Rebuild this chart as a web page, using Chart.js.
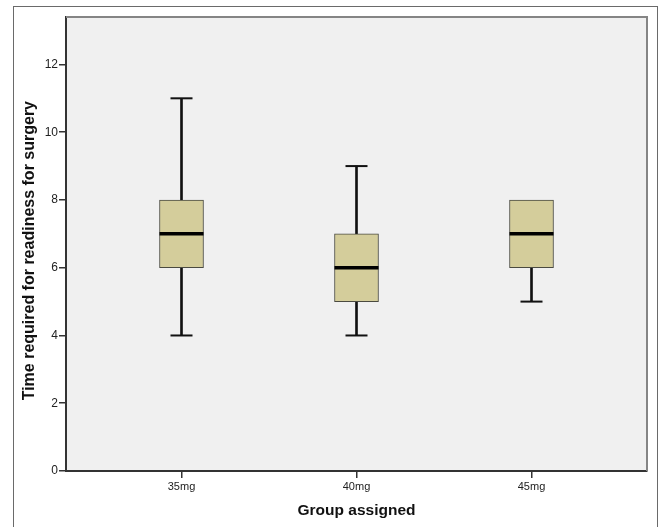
<!DOCTYPE html>
<html>
<head>
<meta charset="utf-8">
<title>Time required for readiness for surgery</title>
<script src="https://cdn.jsdelivr.net/npm/chart.js@4.4.1/dist/chart.umd.min.js"></script>
<style>
  html, body { margin: 0; padding: 0; background: #fff; }
  #wrap { position: relative; width: 659px; height: 527px; overflow: hidden; }
  #frame {
    position: absolute; left: 13px; top: 6px; width: 643px; height: 540px;
    border: 1px solid #6a6a6a;
  }
  #chart { position: absolute; left: 0; top: 0; }
</style>
</head>
<body>
<div id="wrap">
  <div id="frame"></div>
  <canvas id="chart" width="659" height="527"></canvas>
</div>
<script>
// Data
const groups = ["35mg", "40mg", "45mg"];
const mins = [4, 4, 5];
const q1s = [6, 5, 6];
const medians = [7, 6, 7];
const q3s = [8, 7, 8];
const maxs = [11, 9, 8];
const yTicks = [0, 2, 4, 6, 8, 10, 12];

const font = "'Liberation Sans', Arial, sans-serif";

// points for the datasets (whiskers/caps only where they stick out of the box)
const boxData = groups.map((g, i) => ({ x: i, y: [q1s[i], q3s[i]] }));
const medianData = groups.map((g, i) => ({ x: i, y: medians[i] }));
const lowerWhisker = [];
const upperWhisker = [];
const capData = [];
groups.forEach((g, i) => {
  if (mins[i] < q1s[i]) {
    lowerWhisker.push({ x: i, y: [mins[i], q1s[i]] });
    capData.push({ x: i, y: mins[i] });
  }
  if (maxs[i] > q3s[i]) {
    upperWhisker.push({ x: i, y: [q3s[i], maxs[i]] });
    capData.push({ x: i, y: maxs[i] });
  }
});

// plot background + top/right frame
const plotFrame = {
  id: "plotFrame",
  beforeDraw(chart) {
    const { ctx, chartArea: a } = chart;
    ctx.save();
    ctx.fillStyle = "#f0f0f0";
    ctx.fillRect(a.left, a.top, a.width, a.height);
    ctx.restore();
  },
  afterDraw(chart) {
    const { ctx, chartArea: a } = chart;
    ctx.save();
    ctx.strokeStyle = "#858585";
    ctx.lineWidth = 2;
    ctx.beginPath();
    ctx.moveTo(a.left, a.top);
    ctx.lineTo(a.right, a.top);
    ctx.lineTo(a.right, a.bottom);
    ctx.stroke();
    ctx.restore();
  },
};

const whisker = (data, order) => ({
  data: data,
  grouped: false,
  barThickness: 2,
  backgroundColor: "#111",
  borderWidth: 0,
  order: order,
});

new Chart(document.getElementById("chart"), {
  type: "bar",
  data: {
    datasets: [
      {
        type: "line",
        data: medianData,
        showLine: false,
        pointStyle: "line",
        pointRadius: 22,
        pointHoverRadius: 22,
        pointBorderWidth: 3.5,
        pointBorderColor: "#000",
        order: 1,
      },
      {
        type: "line",
        data: capData,
        showLine: false,
        pointStyle: "line",
        pointRadius: 11,
        pointHoverRadius: 11,
        pointBorderWidth: 2,
        pointBorderColor: "#111",
        order: 2,
      },
      {
        data: boxData,
        grouped: false,
        barThickness: 44,
        backgroundColor: "#d4cd9b",
        borderColor: "#4a4a40",
        borderWidth: 1,
        borderSkipped: false,
        order: 3,
      },
      whisker(lowerWhisker, 4),
      whisker(upperWhisker, 5),
    ],
  },
  options: {
    responsive: false,
    animation: false,
    events: [],
    devicePixelRatio: 1,
    layout: { autoPadding: false, padding: { top: 17, right: 12, left: 0, bottom: 0 } },
    plugins: {
      legend: { display: false },
      tooltip: { enabled: false },
    },
    scales: {
      x: {
        type: "linear",
        min: -0.66,
        max: 2.66,
        offset: false,
        afterBuildTicks: (s) => {
          s.ticks = groups.map((g, i) => ({ value: i }));
        },
        afterFit: (s) => {
          s.height = 56;
        },
        ticks: {
          callback: (v) => groups[v],
          color: "#222",
          padding: 2,
          font: { family: font, size: 11 },
          maxRotation: 0,
        },
        grid: {
          offset: false,
          drawOnChartArea: false,
          tickLength: 7,
          color: "#333",
          lineWidth: 1.5,
        },
        border: { display: true, color: "#333", width: 2 },
        title: {
          display: true,
          text: "Group assigned",
          color: "#111",
          padding: { top: 0, bottom: 7 },
          font: { family: font, size: 15.5, weight: "bold" },
        },
      },
      y: {
        min: 0,
        max: 13.4,
        afterBuildTicks: (s) => {
          s.ticks = yTicks.map((v) => ({ value: v }));
        },
        afterFit: (s) => {
          s.width = 66;
        },
        ticks: {
          color: "#222",
          padding: 1,
          font: { family: font, size: 12 },
        },
        grid: {
          drawOnChartArea: false,
          tickLength: 7,
          color: "#333",
          lineWidth: 1.5,
        },
        border: { display: true, color: "#333", width: 2 },
        title: {
          display: true,
          text: "Time required for readiness for surgery   ",
          color: "#111",
          padding: { top: 20, bottom: 0 },
          font: { family: font, size: 16, weight: "bold" },
        },
      },
    },
  },
  plugins: [plotFrame],
});
</script>
</body>
</html>
